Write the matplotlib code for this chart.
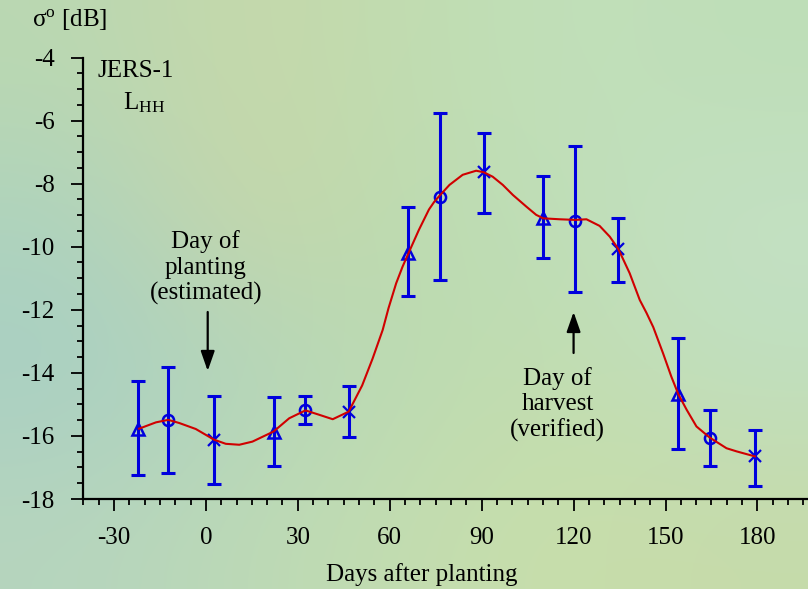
import numpy as np
import matplotlib
matplotlib.use('Agg')
import matplotlib.pyplot as plt
from matplotlib.ticker import MultipleLocator

# ---------------- data ----------------
days = [-22.1, -12.3, 2.7, 22.1, 32.5, 46.6, 66.1, 76.3, 90.7, 110.1,
        120.6, 134.6, 154.2, 164.4, 179.2]
sigma = [-15.77, -15.49, -16.12, -15.86, -15.19, -15.23, -10.21, -8.43,
         -7.64, -9.10, -9.17, -10.07, -14.68, -16.05, -16.65]
err_high = [-14.27, -13.80, -14.72, -14.77, -14.72, -14.42, -8.75, -5.75,
            -6.39, -7.77, -6.80, -9.09, -12.88, -15.17, -15.81]
err_low = [-17.23, -17.18, -17.53, -16.96, -15.63, -16.04, -11.55, -11.05,
           -8.93, -10.36, -11.44, -11.11, -16.43, -16.95, -17.58]
markers = ['^', 'o', 'x'] * 5

curve_days = [-21.8, -16.3, -12.3, -8.7, -3.3, 2.7, 6.5, 10.9, 15.2, 22.1,
              27.2, 32.5, 37.0, 41.4, 46.6, 51.0, 54.4, 57.7, 59.6, 62.1,
              64.2, 66.1, 69.5, 72.8, 74.5, 76.1, 79.5, 83.8, 88.2, 90.7,
              93.6, 96.9, 100.2, 104.6, 107.8, 110.1, 115.5, 120.6, 124.2,
              128.5, 131.8, 134.6, 138.3, 141.6, 143.8, 146.0, 149.2, 151.9,
              154.2, 156.9, 160.1, 164.4, 169.9, 173.2, 179.2]
curve_sigma = [-15.77, -15.57, -15.49, -15.59, -15.78, -16.12, -16.25, -16.28,
               -16.18, -15.86, -15.44, -15.19, -15.33, -15.47, -15.23, -14.40,
               -13.55, -12.64, -11.95, -11.16, -10.63, -10.21, -9.47, -8.82,
               -8.58, -8.40, -8.04, -7.72, -7.59, -7.64, -7.78, -8.04, -8.36,
               -8.73, -8.99, -9.10, -9.13, -9.15, -9.13, -9.34, -9.68, -10.07,
               -10.84, -11.69, -12.10, -12.55, -13.38, -14.12, -14.68, -15.17,
               -15.70, -16.05, -16.39, -16.49, -16.65]

x_ticks = [-30, 0, 30, 60, 90, 120, 150, 180]
y_ticks = [-18, -16, -14, -12, -10, -8, -6, -4]

# ---------------- style ----------------
plt.rcParams['font.family'] = ['Liberation Serif', 'DejaVu Serif']
plt.rcParams['mathtext.fontset'] = 'custom'
plt.rcParams['mathtext.rm'] = 'Liberation Serif'
plt.rcParams['mathtext.it'] = 'Liberation Serif:italic'
plt.rcParams['axes.unicode_minus'] = False

FS = 18
W, H = 808, 589
fig = plt.figure(figsize=(W / 100, H / 100), dpi=100)

# soft background wash
bg_colors = np.array([
    [(186, 216, 178), (198, 216, 170), (192, 220, 176), (194, 224, 186), (190, 222, 184)],
    [(174, 211, 190), (200, 214, 168), (188, 219, 176), (191, 222, 184), (196, 225, 196)],
    [(168, 207, 196), (178, 213, 188), (188, 219, 178), (194, 221, 176), (192, 223, 192)],
    [(182, 213, 190), (188, 217, 182), (195, 221, 176), (200, 222, 170), (198, 219, 170)],
], dtype=float) / 255.0
bg = fig.add_axes([0, 0, 1, 1], zorder=-10)
bg.imshow(bg_colors, aspect='auto', interpolation='bicubic', extent=[0, 1, 0, 1])
bg.set_axis_off()

ax = fig.add_axes([83.3 / W, 90 / H, 1 - 83.3 / W, (499 - 57.5) / H])
ax.patch.set_alpha(0)

ax.set_xlim(-40, 196.5)
ax.set_ylim(-18, -4)

# red fitted curve
ax.plot(curve_days, curve_sigma, color='#d00000', lw=1.5, zorder=4)

# data with error bars
for d, s, hi, lo, m in zip(days, sigma, err_high, err_low, markers):
    ax.errorbar([d], [s], yerr=[[s - lo], [hi - s]], fmt='none',
                ecolor='#0000dd', elinewidth=2.2, capsize=5, capthick=2.2, zorder=3)
    if m == 'x':
        ax.plot([d], [s], marker='x', ms=8, mew=1.6, color='#0000dd', ls='none', zorder=3)
    else:
        ax.plot([d], [s], marker=m, ms=8, mew=1.8, mfc='none', mec='#0000dd',
                ls='none', zorder=3)

# axes styling
for side in ['top', 'right']:
    ax.spines[side].set_visible(False)
for side in ['left', 'bottom']:
    ax.spines[side].set_linewidth(1.6)
    ax.spines[side].set_color('black')

ax.set_xticks(x_ticks)
ax.set_yticks(y_ticks)
ax.set_xticklabels([str(v) for v in x_ticks])
ax.set_yticklabels([str(v) for v in y_ticks])
ax.xaxis.set_minor_locator(MultipleLocator(5))
ax.yaxis.set_minor_locator(MultipleLocator(0.5))
ax.tick_params(which='major', direction='out', length=8.5, width=1.3,
               labelsize=FS, colors='black')
ax.tick_params(which='minor', direction='out', length=4.5, width=1.3)
ax.tick_params(axis='x', which='major', pad=12)
ax.tick_params(axis='y', which='major', pad=12)

ax.set_xlabel('Days after planting', fontsize=FS, va='center')
ax.xaxis.set_label_coords(0.4666, -0.172)

# texts
fig.text(32 / W, 1 - 20 / H, 'σ$^{\\mathrm{o}}$ [dB]', fontsize=FS,
         ha='left', va='center')
fig.text(136 / W, 1 - 71 / H, 'JERS-1', fontsize=FS, ha='center', va='center')
fig.text(123 / W, 1 - 103 / H, 'L$_{\\mathrm{HH}}$', fontsize=FS,
         ha='left', va='center')

arrow_style = dict(arrowstyle='-|>,head_length=1.2,head_width=0.42',
                   color='black', lw=1.6, shrinkA=0, shrinkB=0)

ax.text(0, -10.67, 'Day of\nplanting\n(estimated)', fontsize=FS, ha='center',
        va='center', linespacing=1.2)
ax.annotate('', xy=(0.6, -13.94), xytext=(0.6, -12.07), arrowprops=arrow_style)

ax.text(114.8, -15.0, 'Day of\nharvest\n(verified)', fontsize=FS, ha='center',
        va='center', linespacing=1.2)
ax.annotate('', xy=(120.0, -12.07), xytext=(120.0, -13.37), arrowprops=arrow_style)

fig.savefig('out.png', dpi=100)
